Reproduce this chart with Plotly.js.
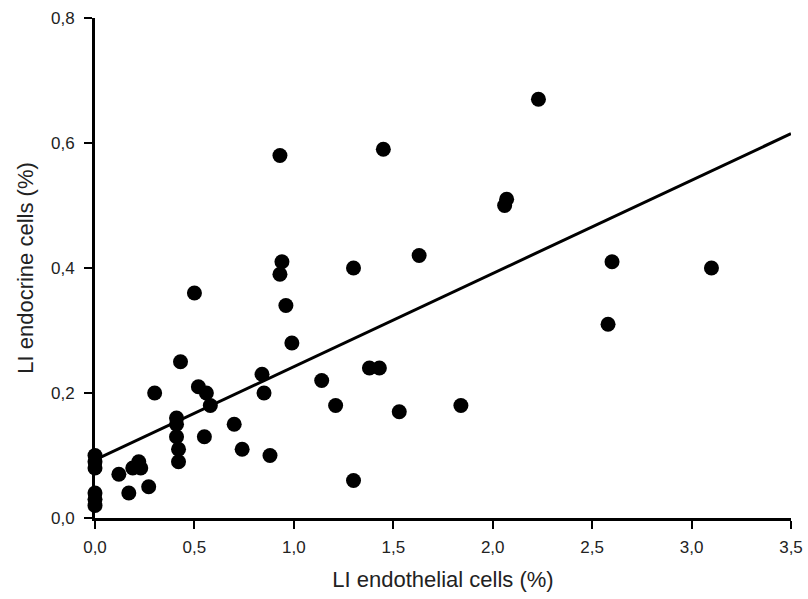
<!DOCTYPE html>
<html>
<head>
<meta charset="utf-8">
<script src="https://cdn.plot.ly/plotly-3.0.1.min.js"></script>
<style>html,body{margin:0;padding:0;background:#fff;}#chart{width:808px;height:599px;}</style>
</head>
<body>
<div id="chart"></div>
<script>
// Data
var endothelialLI = [0.0, 0.0, 0.0, 0.0, 0.0, 0.0, 0.12, 0.17, 0.19, 0.22, 0.23, 0.27, 0.30,
  0.41, 0.41, 0.41, 0.42, 0.42, 0.43, 0.50, 0.52, 0.55, 0.56, 0.58, 0.70, 0.74,
  0.84, 0.85, 0.88, 0.93, 0.93, 0.94, 0.96, 0.99, 1.14, 1.21, 1.30, 1.30, 1.38, 1.43,
  1.45, 1.53, 1.63, 1.84, 2.06, 2.07, 2.23, 2.58, 2.60, 3.10];
var endocrineLI = [0.10, 0.09, 0.08, 0.04, 0.03, 0.02, 0.07, 0.04, 0.08, 0.09, 0.08, 0.05, 0.20,
  0.16, 0.15, 0.13, 0.11, 0.09, 0.25, 0.36, 0.21, 0.13, 0.20, 0.18, 0.15, 0.11,
  0.23, 0.20, 0.10, 0.39, 0.58, 0.41, 0.34, 0.28, 0.22, 0.18, 0.40, 0.06, 0.24, 0.24,
  0.59, 0.17, 0.42, 0.18, 0.50, 0.51, 0.67, 0.31, 0.41, 0.40];
// Regression line as drawn in the picture (end points)
var fitX = [0.0, 3.5];
var fitY = [0.093, 0.615];
// Tick labels (comma decimals)
var xTickVals = [0, 0.5, 1.0, 1.5, 2.0, 2.5, 3.0, 3.5];
var xTickText = ["0,0", "0,5", "1,0", "1,5", "2,0", "2,5", "3,0", "3,5"];
var yTickVals = [0, 0.2, 0.4, 0.6, 0.8];
var yTickText = ["0,0", "0,2", "0,4", "0,6", "0,8"];

var traces = [
  {x: fitX, y: fitY, mode: 'lines', type: 'scatter', line: {color: '#000', width: 3}, hoverinfo: 'skip', cliponaxis: false},
  {x: endothelialLI, y: endocrineLI, mode: 'markers', type: 'scatter', cliponaxis: false,
   marker: {color: '#000', size: 15, line: {width: 0}}}
];

var fontFam = '"Liberation Sans", Arial, sans-serif';
var layout = {
  width: 808, height: 599,
  margin: {l: 95, r: 17, t: 18, b: 81},
  paper_bgcolor: '#fff', plot_bgcolor: '#fff',
  showlegend: false,
  font: {family: fontFam, color: '#222', size: 16},
  xaxis: {
    range: [0, 3.5], tickvals: xTickVals, ticktext: xTickText,
    showgrid: false, zeroline: false, showline: true, linecolor: '#000', linewidth: 2.5,
    ticks: 'outside', ticklen: 8, tickwidth: 2, tickcolor: '#000', ticklabelstandoff: 4,
    tickfont: {family: fontFam, size: 17, color: '#222'},
    title: {text: 'LI endothelial cells (%)', font: {family: fontFam, size: 22, color: '#222'}, standoff: 16}
  },
  yaxis: {
    range: [0, 0.8], tickvals: yTickVals, ticktext: yTickText,
    showgrid: false, zeroline: false, showline: true, linecolor: '#000', linewidth: 3,
    ticks: 'outside', ticklen: 8, tickwidth: 2, tickcolor: '#000', ticklabelstandoff: 6,
    tickfont: {family: fontFam, size: 17, color: '#222'},
    title: {text: 'LI endocrine cells (%)', font: {family: fontFam, size: 22, color: '#222'}, standoff: 12}
  }
};
Plotly.newPlot('chart', traces, layout, {displayModeBar: false, staticPlot: true});
</script>
</body>
</html>
